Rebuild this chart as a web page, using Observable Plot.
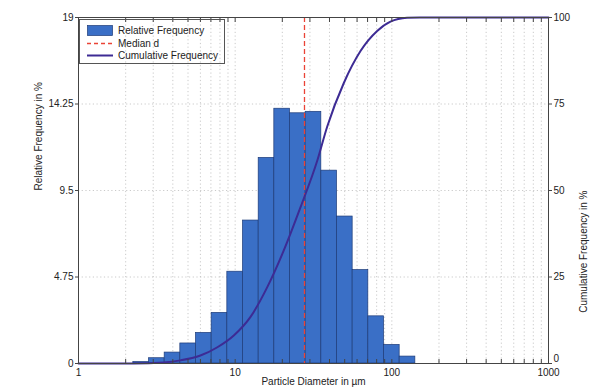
<!DOCTYPE html>
<html>
<head>
<meta charset="utf-8">
<script src="https://cdn.jsdelivr.net/npm/d3@7"></script>
<script src="https://cdn.jsdelivr.net/npm/@observablehq/plot@0.6"></script>
<style>
  html, body { margin: 0; padding: 0; background: #fff; }
  #wrap { position: relative; width: 598px; height: 392px; font-family: "Liberation Sans", Arial, sans-serif; }
  #legend { position: absolute; left: 79px; top: 19px; width: 146px; height: 45px; border: 1px solid #555; box-sizing: border-box; font-size: 10px; color: #222; }
  #legend .row { position: absolute; left: 7px; height: 12px; display: flex; align-items: center; }
  #legend .row span { margin-left: 5px; }
</style>
</head>
<body>
<div id="wrap"></div>
<script>
// ---- data ----
const binEdges = [2.239, 2.818, 3.548, 4.467, 5.623, 7.079, 8.913, 11.22, 14.13, 17.78, 22.39, 28.18, 35.48, 44.67, 56.23, 70.79, 89.13, 112.2, 141.3];
const relFreq  = [0.08, 0.29, 0.60, 1.10, 1.68, 2.78, 5.04, 7.85, 11.29, 13.99, 13.74, 13.82, 10.59, 8.07, 5.13, 2.59, 1.02, 0.38];
const medianD = 27.7;
const cumDiameter = [1, 2.24, 3.5, 4.48, 6.0, 7.7, 9.8, 12.5, 16.0, 20.4, 26.1, 33.4, 38.7, 49.3, 63.1, 80.6, 98, 125, 151, 1000];
const cumPercent  = [0, 0, 0.3, 0.9, 2.3, 4.7, 8.1, 13.4, 22.0, 32.6, 45.1, 58.6, 68.5, 81.0, 90.3, 96.1, 98.8, 99.9, 100, 100];
const leftTicks = [0, 4.75, 9.5, 14.25, 19];
const rightTickLabels = ["0", "25", "50", "75", "100"];
const xMajorTicks = [1, 10, 100, 1000];
const xAllTicks = [1,2,3,4,5,6,7,8,9,10,20,30,40,50,60,70,80,90,100,200,300,400,500,600,700,800,900,1000];
const xLabel = "Particle Diameter in µm";
const yLabelLeft = "Relative Frequency in %";
const yLabelRight = "Cumulative Frequency in %";
const legendLabels = ["Relative Frequency", "Median d", "Cumulative Frequency"];

const bars = relFreq.map((v, i) => ({x1: binEdges[i], x2: binEdges[i + 1], v}));
const cum = cumDiameter.map((d, i) => ({d, p: cumPercent[i]}));
const yMax = 19;

const colBar = "#3a6fc6", colBarEdge = "#1d3b78", colMedian = "#ea4336", colCum = "#3d2b94";

const chart = Plot.plot({
  width: 598, height: 392,
  marginLeft: 78, marginRight: 50, marginTop: 17, marginBottom: 29,
  style: {fontFamily: "'Liberation Sans', Arial, sans-serif", fontSize: "10px", color: "#222", background: "transparent"},
  x: {type: "log", domain: [1, 1000]},
  y: {domain: [0, yMax]},
  marks: [
    Plot.ruleX(xAllTicks.slice(1, -1), {stroke: "#bdbdbd", strokeDasharray: "1.2,2.5", strokeWidth: 0.8}),
    Plot.ruleY(leftTicks.slice(1, -1), {stroke: "#bdbdbd", strokeDasharray: "1.2,2.5", strokeWidth: 0.8}),
    Plot.rectY(bars, {x1: "x1", x2: "x2", y: "v", fill: colBar, stroke: colBarEdge, strokeWidth: 0.7}),
    Plot.ruleX([medianD], {stroke: colMedian, strokeWidth: 1.3, strokeDasharray: "5,3"}),
    Plot.line(cum, {x: "d", y: d => d.p * yMax / 100, stroke: colCum, strokeWidth: 2, curve: "monotone-x"}),
    Plot.frame({stroke: "#444", strokeWidth: 1}),
    Plot.axisX({anchor: "bottom", ticks: xAllTicks, tickSize: -4, tickFormat: () => "", stroke: "#444", label: null}),
    Plot.axisX({anchor: "top", ticks: xAllTicks, tickSize: -4, tickFormat: () => "", stroke: "#444", label: null}),
    Plot.axisX({anchor: "bottom", ticks: xMajorTicks, tickSize: 0, tickPadding: 5, tickFormat: d => String(d), label: null}),
    Plot.axisY({anchor: "left", ticks: leftTicks, tickSize: 3, tickPadding: 2, tickFormat: d => String(d), stroke: "#444", label: null}),
    Plot.axisY({anchor: "right", ticks: leftTicks, tickSize: 3, tickPadding: 2, tickFormat: d => d === 0 ? "" : rightTickLabels[leftTicks.indexOf(d)], stroke: "#444", label: null}),
    Plot.text([0], {x: 1000, y: d => d, text: () => rightTickLabels[0], dx: 5, dy: -5, textAnchor: "start", fontSize: 10, fill: "#222"}),
    Plot.text([xLabel], {text: d => d, frameAnchor: "bottom", dy: 21, fontSize: 10, fill: "#222"}),
    Plot.text([yLabelLeft], {text: d => d, frameAnchor: "left", dx: -40, rotate: -90, fontSize: 10, fill: "#222"}),
    Plot.text([yLabelRight], {text: d => d, frameAnchor: "right", dx: 35, rotate: -90, fontSize: 10, fill: "#222"})
  ]
});

const wrap = document.getElementById("wrap");
wrap.appendChild(chart);

// legend overlay
const legend = document.createElement("div");
legend.id = "legend";
const swatches = [
  `<svg width="26" height="11"><rect x="0.5" y="0.5" width="25" height="10" fill="${colBar}" stroke="${colBarEdge}" stroke-width="0.7"/></svg>`,
  `<svg width="26" height="11"><line x1="0" y1="5.5" x2="26" y2="5.5" stroke="${colMedian}" stroke-width="1.3" stroke-dasharray="4,3"/></svg>`,
  `<svg width="26" height="11"><line x1="0" y1="5.5" x2="26" y2="5.5" stroke="${colCum}" stroke-width="2"/></svg>`
];
const rowTops = [4, 17, 29];
legendLabels.forEach((t, i) => {
  const r = document.createElement("div");
  r.className = "row";
  r.style.top = rowTops[i] + "px";
  r.innerHTML = swatches[i] + `<span>${t}</span>`;
  legend.appendChild(r);
});
wrap.appendChild(legend);
</script>
</body>
</html>
